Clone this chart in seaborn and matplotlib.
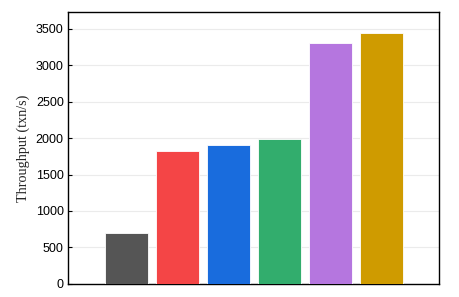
import pandas as pd
import seaborn as sns
import matplotlib.pyplot as plt

# one bar per system, no x labels in the original
systems = ["S1", "S2", "S3", "S4", "S5", "S6"]
throughput = [700, 1820, 1910, 1985, 3300, 3445]
colors = ["#555555", "#F44546", "#196CDD", "#32AD6D", "#B576DF", "#CF9B00"]
yticks = [0, 500, 1000, 1500, 2000, 2500, 3000, 3500]


def make_barplot():
    sns.set_theme(style="white")
    plt.rcParams["font.family"] = ["Liberation Sans", "DejaVu Sans"]

    df = pd.DataFrame({"system": systems, "throughput": throughput})

    fig, ax = plt.subplots(figsize=(4.59, 2.97), dpi=100)
    fig.subplots_adjust(left=0.148, right=0.957, bottom=0.044, top=0.96)

    sns.barplot(data=df, x="system", y="throughput", hue="system",
                palette=colors, saturation=1, legend=False, width=0.84,
                ax=ax, edgecolor="white", linewidth=0.6, zorder=3)

    ax.set_xlim(-1.15, 6.13)
    ax.set_ylim(0, 3730)
    ax.set_yticks(yticks)
    ax.set_xticks([])
    ax.set_xlabel("")
    ax.set_ylabel("Throughput (txn/s)", family="Liberation Serif",
                  fontsize=10.2, labelpad=4)
    ax.yaxis.grid(True, color="#EBEBEB", linewidth=0.8, zorder=0)
    ax.tick_params(axis="y", direction="in", length=3, width=0.8,
                   labelsize=9, left=True, pad=3, colors="black")
    for side in ax.spines.values():
        side.set_color("black")
        side.set_linewidth(1.0)

    fig.savefig("out.png", dpi=100)


if __name__ == "__main__":
    make_barplot()
